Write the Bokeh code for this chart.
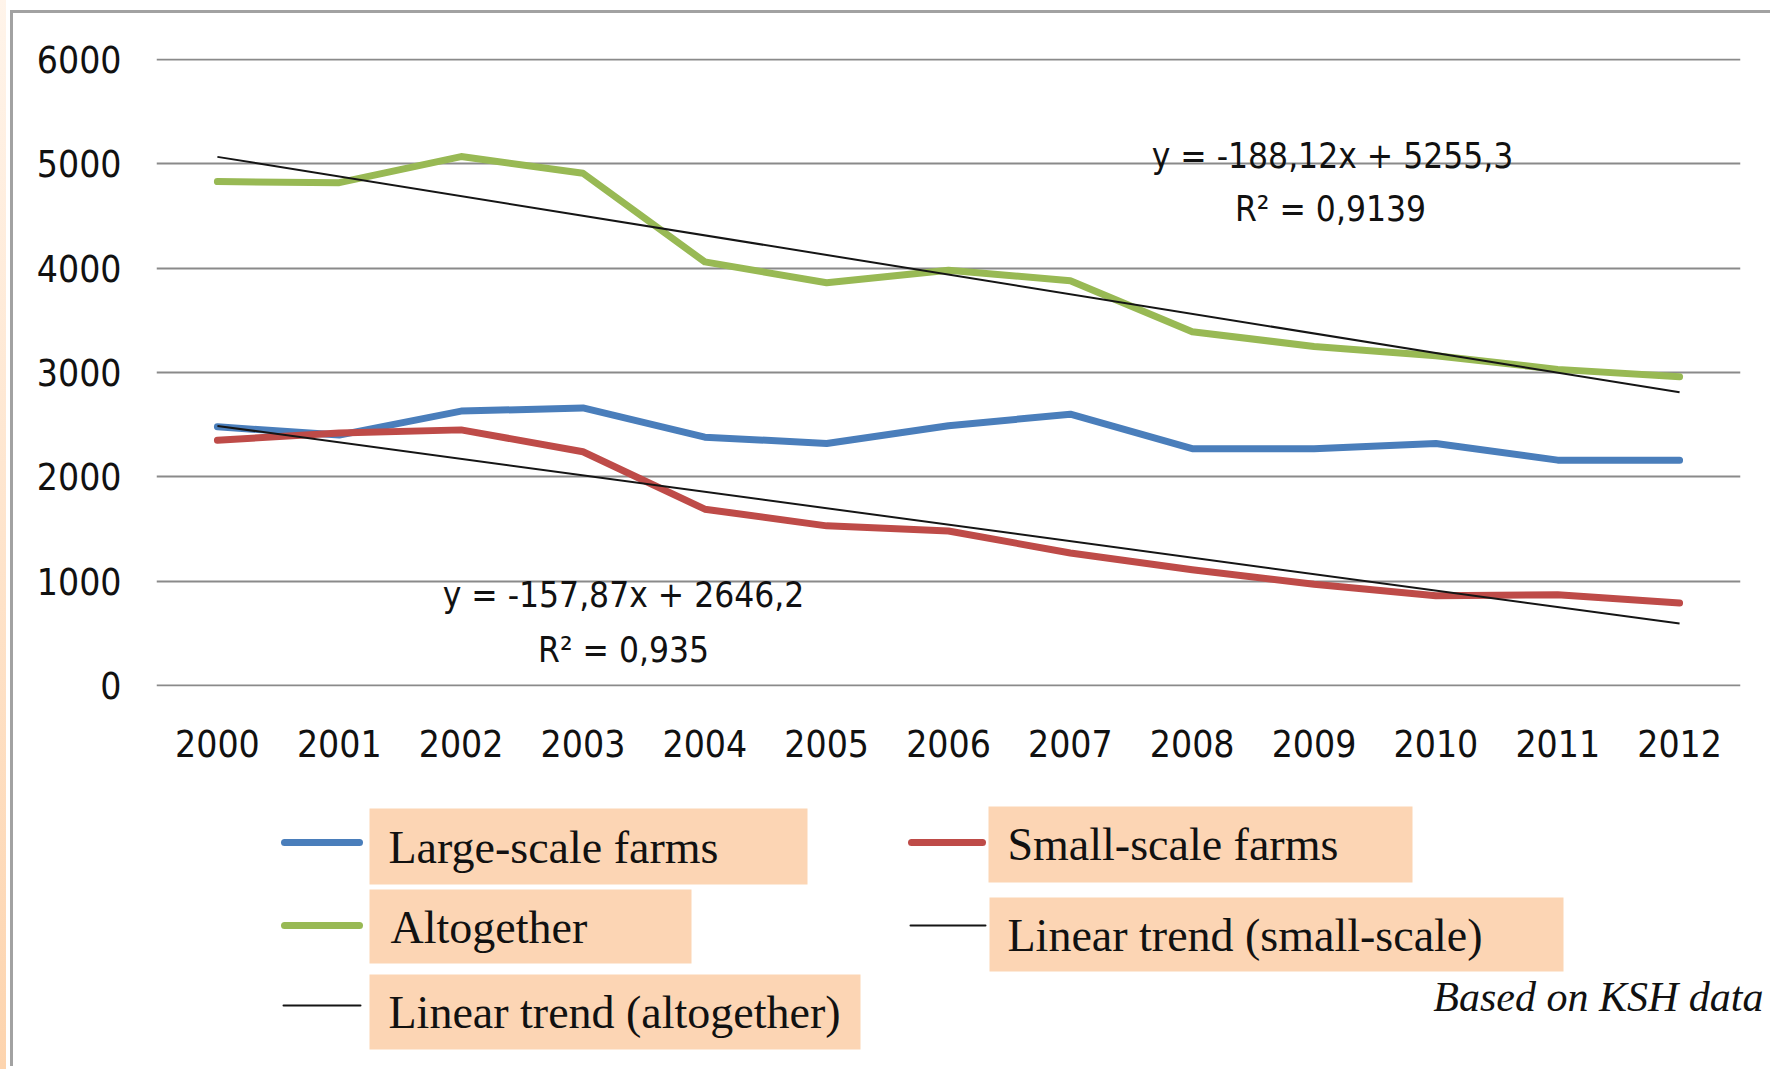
from bokeh.plotting import figure
from bokeh.layouts import column
from bokeh.models import Range1d, FixedTicker, Label, GlobalInlineStyleSheet
from bokeh.core.properties import value
from bokeh.embed import file_html
from bokeh.resources import INLINE

# ---------------- data ----------------
years = [2000, 2001, 2002, 2003, 2004, 2005, 2006, 2007, 2008, 2009, 2010, 2011, 2012]
year_labels = ["2000", "2001", "2002", "2003", "2004", "2005", "2006",
               "2007", "2008", "2009", "2010", "2011", "2012"]
large_scale = [2480, 2400, 2630, 2660, 2380, 2320, 2490, 2600, 2270, 2270, 2320, 2160, 2160]
small_scale = [2350, 2420, 2450, 2240, 1690, 1530, 1480, 1270, 1110, 970, 860, 870, 790]
altogether = [4830, 4820, 5070, 4910, 4060, 3860, 3980, 3880, 3390, 3250, 3160, 3030, 2960]
trend_years = [2000, 2012]
trend_altogether = [5067, 2810]
trend_small = [2488, 594]
y_ticks = [0, 1000, 2000, 3000, 4000, 5000, 6000]
y_labels = ["0", "1000", "2000", "3000", "4000", "5000", "6000"]

eq_altogether = "y = -188,12x + 5255,3"
r2_altogether = "R² = 0,9139"
eq_small = "y = -157,87x + 2646,2"
r2_small = "R² = 0,935"

legend_names = ["Large-scale farms", "Small-scale farms", "Altogether",
                "Linear trend (small-scale)", "Linear trend (altogether)"]
source_note = "Based on KSH data"

# ---------------- styling ----------------
C_LARGE = "#4A7EBB"
C_SMALL = "#BE4B48"
C_ALL = "#98B954"
C_TREND = "#151515"
PEACH = "#FCD5B4"
SANS = "DejaVu Sans Condensed"
SERIF = "Liberation Serif"

# the page is placed at (0, 0): figure pixels == page pixels
W = 1774
HA = 780           # chart part
HB = 288           # legend part
FL, FT = 156, 58
FR = W - 1740
frame_w = W - FL - FR
frame_h = 628
FB = HA - FT - frame_h
X0, X1 = 1999.5, 2012.5
Y0, Y1 = -10, 6010

p = figure(width=W, height=HA, x_range=Range1d(X0, X1), y_range=Range1d(Y0, Y1),
           output_backend="svg", toolbar_location=None,
           min_border_left=FL, min_border_right=FR,
           min_border_top=FT, min_border_bottom=FB)
p.outline_line_color = None
p.background_fill_color = None
p.border_fill_color = None

for ax in (p.xaxis[0], p.yaxis[0]):
    ax.axis_line_color = None
    ax.major_tick_line_color = None
    ax.minor_tick_line_color = None
    ax.major_label_text_font = SANS
    ax.major_label_text_font_size = "37px"
    ax.major_label_text_color = "#111111"

p.xaxis.ticker = FixedTicker(ticks=years)
p.xaxis.major_label_overrides = {y: l for y, l in zip(years, year_labels)}
p.xaxis.major_label_standoff = 37
p.yaxis.ticker = FixedTicker(ticks=y_ticks)
p.yaxis.major_label_overrides = {t: l for t, l in zip(y_ticks, y_labels)}
p.yaxis.major_label_standoff = 29

p.xgrid.grid_line_color = None
p.ygrid.grid_line_color = "#8a8a8a"
p.ygrid.grid_line_width = 2

p.line(years, altogether, line_color=C_ALL, line_width=7, line_join="round", line_cap="round")
p.line(years, large_scale, line_color=C_LARGE, line_width=7, line_join="round", line_cap="round")
p.line(years, small_scale, line_color=C_SMALL, line_width=7, line_join="round", line_cap="round")
p.line(trend_years, trend_altogether, line_color=C_TREND, line_width=2)
p.line(trend_years, trend_small, line_color=C_TREND, line_width=2)


def dx(px):
    return X0 + (px - FL) * (X1 - X0) / frame_w


def dy(py):
    return Y1 - (py - FT) * (Y1 - Y0) / frame_h


for txt, cx, cy in [(eq_altogether, 1332, 155), (r2_altogether, 1330, 208),
                    (eq_small, 623, 594), (r2_small, 623, 649)]:
    p.add_layout(Label(x=dx(cx), y=dy(cy), text=txt, text_align="center",
                       text_baseline="middle", text_font=SANS,
                       text_font_size="35px", text_color="#111111"))

# ---------------- legend panel (page-pixel coordinates) ----------------
q = figure(frame_width=W, frame_height=HB,
           x_range=Range1d(0, W), y_range=Range1d(HA + HB, HA),
           output_backend="svg", toolbar_location=None,
           x_axis_location=None, y_axis_location=None,
           min_border_left=0, min_border_right=0, min_border_top=0, min_border_bottom=0)
q.outline_line_color = None
q.background_fill_color = None
q.border_fill_color = None
q.xgrid.grid_line_color = None
q.ygrid.grid_line_color = None

for fig in (p, q):
    if "frame_align" in fig.properties():
        fig.frame_align = False

swatch_colors = [C_LARGE, C_SMALL, C_ALL, C_TREND, C_TREND]
swatch_widths = [7, 7, 7, 2, 2]
sw_x0 = [284, 911, 284, 910, 283]
sw_x1 = [359, 982, 359, 985, 360]
sw_y = [842, 842, 925, 925, 1005]
box_l = [369, 988, 369, 989, 369]
box_r = [807, 1412, 691, 1563, 860]
box_t = [808, 806, 889, 897, 974]
box_b = [884, 882, 963, 971, 1049]
txt_x = [388, 1007, 390, 1007, 388]
txt_y = [847, 844, 927, 935, 1012]

q.quad(left=box_l, right=box_r, top=box_t, bottom=box_b, fill_color=PEACH, line_color=None)
q.segment(x0=sw_x0, y0=sw_y, x1=sw_x1, y1=sw_y, line_color=swatch_colors,
          line_width=swatch_widths, line_cap="round")
q.text(x=txt_x, y=txt_y, text=legend_names, text_font=value(SERIF),
       text_font_size=value("46px"), text_align="left", text_baseline="middle",
       text_color="#111111")
q.text(x=[1763], y=[996], text=[source_note], text_font=value(SERIF),
       text_font_style="italic", text_font_size=value("42px"), text_align="right",
       text_baseline="middle", text_color="#111111")

css = GlobalInlineStyleSheet(css="""
html, body { background-color: #ffffff; }
body {
  background-image:
    linear-gradient(#a2a2a2, #a2a2a2),
    linear-gradient(#a2a2a2, #a2a2a2),
    linear-gradient(to bottom, #fff4ea, #fdd4ae);
  background-repeat: no-repeat;
  background-size: 3px 1056px, 1760px 3px, 6px 1069px;
  background-position: 10px 10px, 10px 10px, 0px 0px;
}
""")

layout = column(p, q, spacing=0, stylesheets=[css])
open("out.html", "w").write(file_html(layout, INLINE))
